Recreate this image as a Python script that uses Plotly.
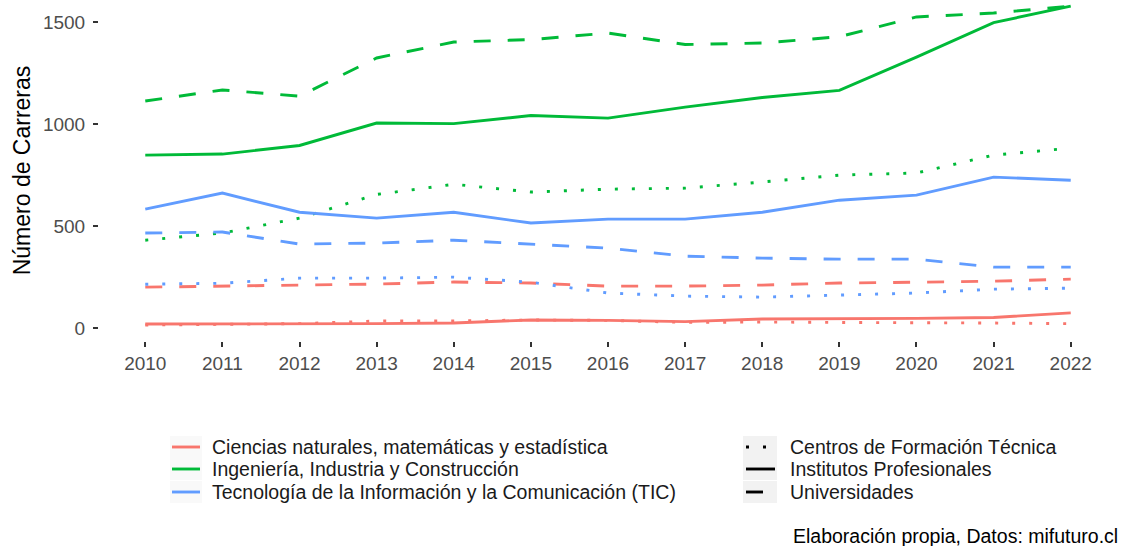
import plotly.graph_objects as go

years = list(range(2010, 2023))

# Ciencias naturales, matemáticas y estadística
cn_cft = [15, 18, 22, 35, 35, 40, 38, 28, 30, 28, 28, 25, 22]
cn_ip = [20, 20, 22, 22, 25, 40, 38, 32, 45, 45, 48, 52, 75]
cn_uni = [201, 206, 211, 216, 226, 221, 206, 206, 211, 221, 225, 230, 240]

# Ingeniería, Industria y Construcción
ing_cft = [431, 466, 539, 655, 705, 667, 681, 686, 716, 750, 760, 848, 882]
ing_ip = [848, 853, 895, 1005, 1002, 1042, 1029, 1083, 1130, 1165, 1328, 1497, 1578]
ing_uni = [1113, 1167, 1137, 1324, 1402, 1414, 1446, 1390, 1397, 1428, 1525, 1544, 1578]

# Tecnología de la Información y la Comunicación (TIC)
tic_cft = [215, 220, 245, 245, 250, 225, 172, 157, 152, 162, 172, 191, 196]
tic_ip = [583, 662, 568, 539, 568, 515, 534, 534, 568, 627, 652, 740, 725]
tic_uni = [466, 471, 412, 417, 431, 412, 392, 353, 343, 338, 338, 299, 299]

areas = ["Ciencias naturales, matemáticas y estadística",
         "Ingeniería, Industria y Construcción",
         "Tecnología de la Información y la Comunicación (TIC)"]
tipos = ["Centros de Formación Técnica", "Institutos Profesionales", "Universidades"]
colors = ["#F8766D", "#00BA38", "#619CFF"]
dashes = ["3px,14px", "solid", "17px,17px"]
caption = "Elaboración propia, Datos: mifuturo.cl"

series = [[cn_cft, cn_ip, cn_uni], [ing_cft, ing_ip, ing_uni], [tic_cft, tic_ip, tic_uni]]

W, H = 1123, 546
ML, MR, MT, MB = 99, 6, 0, 205
PW, PH = W - ML - MR, H - MT - MB


def px_x(p):
    return (p - ML) / PW


def px_y(p):
    return (H - MB - p) / PH


fig = go.Figure()
for ai, area in enumerate(areas):
    for ti, tipo in enumerate(tipos):
        fig.add_trace(go.Scatter(
            x=years, y=series[ai][ti], mode="lines", name=f"{area} - {tipo}",
            line=dict(color=colors[ai], width=2.9, dash=dashes[ti]),
            showlegend=False))

# Legends (colour and linetype), laid out like ggplot's bottom legends
rows = [447, 469, 492]
shapes, annotations = [], []
LEG_FONT = 19.5
for i, area in enumerate(areas):
    shapes.append(dict(type="rect", xref="paper", yref="paper",
                       x0=px_x(170), x1=px_x(202), y0=px_y(rows[i] + 11), y1=px_y(rows[i] - 11),
                       fillcolor="#F9F9F9", line=dict(width=0), layer="below"))
    shapes.append(dict(type="line", xref="paper", yref="paper",
                       x0=px_x(172), x1=px_x(200), y0=px_y(rows[i]), y1=px_y(rows[i]),
                       line=dict(color=colors[i], width=2.9)))
    annotations.append(dict(text=area, xref="paper", yref="paper", x=px_x(210), y=px_y(rows[i]),
                            xanchor="left", yanchor="middle", showarrow=False,
                            font=dict(size=LEG_FONT, color="#1a1a1a")))
for i, tipo in enumerate(tipos):
    shapes.append(dict(type="rect", xref="paper", yref="paper",
                       x0=px_x(743), x1=px_x(777), y0=px_y(rows[i] + 11), y1=px_y(rows[i] - 11),
                       fillcolor="#F2F2F2", line=dict(width=0), layer="below"))
    shapes.append(dict(type="line", xref="paper", yref="paper",
                       x0=px_x(746), x1=px_x(775), y0=px_y(rows[i]), y1=px_y(rows[i]),
                       line=dict(color="black", width=2.9, dash=dashes[i])))
    annotations.append(dict(text=tipo, xref="paper", yref="paper", x=px_x(788), y=px_y(rows[i]),
                            xanchor="left", yanchor="middle", showarrow=False,
                            font=dict(size=LEG_FONT, color="#1a1a1a")))
annotations.append(dict(text=caption, xref="paper", yref="paper",
                        x=px_x(1120), y=px_y(536), xanchor="right", yanchor="middle",
                        showarrow=False, font=dict(size=LEG_FONT, color="black")))

font = "Liberation Sans, Arial, sans-serif"
fig.update_layout(
    width=W, height=H,
    margin=dict(l=ML, r=MR, t=MT, b=MB, autoexpand=False),
    paper_bgcolor="white", plot_bgcolor="white",
    font=dict(family=font, size=19, color="#4D4D4D"),
    showlegend=False,
    shapes=shapes, annotations=annotations,
)
fig.update_xaxes(range=[2009.4, 2022.6], tickmode="array", tickvals=years,
                 ticktext=[str(y) for y in years], showgrid=False, zeroline=False,
                 ticks="outside", ticklen=5, tickcolor="#333333", tickwidth=1.5,
                 tickfont=dict(size=19, color="#4D4D4D"), showline=False)
fig.update_yaxes(range=[-63, 1608], tickvals=[0, 500, 1000, 1500], showgrid=False,
                 zeroline=False, ticks="outside", ticklen=5, tickcolor="#333333", tickwidth=1.5,
                 tickfont=dict(size=19, color="#4D4D4D"), showline=False, ticklabelstandoff=4,
                 title=dict(text="Número de Carreras", font=dict(size=23, color="black"), standoff=5))

fig.write_html("out.html", config={"displayModeBar": False},
               post_script="document.body.style.margin='0';document.body.style.overflow='hidden';")
